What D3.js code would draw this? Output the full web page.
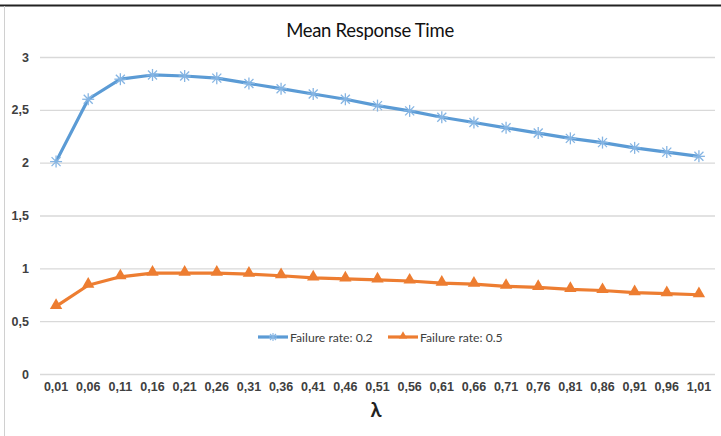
<!DOCTYPE html>
<html>
<head>
<meta charset="utf-8">
<script src="https://cdn.jsdelivr.net/npm/d3@7"></script>
<style>
  body { margin: 0; background: #fff; }
  svg { display: block; font-family: Lato, "Open Sans", sans-serif; }
</style>
</head>
<body>
<div id="chart"></div>
<script>
var lambdas = ["0,01","0,06","0,11","0,16","0,21","0,26","0,31","0,36","0,41","0,46","0,51",
               "0,56","0,61","0,66","0,71","0,76","0,81","0,86","0,91","0,96","1,01"];
var rate02 = [2.01, 2.60, 2.79, 2.83, 2.82, 2.80, 2.75, 2.70, 2.65, 2.60, 2.54,
              2.49, 2.43, 2.38, 2.33, 2.28, 2.23, 2.19, 2.14, 2.10, 2.06];
var rate05 = [0.64, 0.84, 0.92, 0.955, 0.955, 0.955, 0.945, 0.93, 0.91, 0.90, 0.89,
              0.88, 0.86, 0.85, 0.83, 0.82, 0.80, 0.79, 0.77, 0.76, 0.75];
var yTicks = [0, 0.5, 1, 1.5, 2, 2.5, 3];
var seriesNames = ["Failure rate: 0.2", "Failure rate: 0.5"];

var svgWidth = 721, svgHeight = 436;
var margin = {top: 57, right: 6, bottom: 62, left: 40};

var svg = d3.select("#chart").append("svg")
    .attr("width", svgWidth)
    .attr("height", svgHeight);

// frame of the original screenshot
svg.append("line").attr("x1", 0).attr("x2", svgWidth).attr("y1", 5.5).attr("y2", 5.5)
    .attr("stroke", "#222").attr("stroke-width", 2);
svg.append("line").attr("x1", 4.5).attr("x2", 4.5).attr("y1", 6).attr("y2", svgHeight)
    .attr("stroke", "#d0d0d0").attr("stroke-width", 1);

var xScale = d3.scaleBand()
    .domain(lambdas)
    .range([margin.left, svgWidth - margin.right]);

var yScale = d3.scaleLinear()
    .domain([0, 3])
    .range([svgHeight - margin.bottom, margin.top]);

var xc = function(d, i) { return xScale(lambdas[i]) + xScale.bandwidth() / 2; };

// gridlines + y labels
var leftAxis = d3.axisLeft(yScale)
    .tickValues(yTicks)
    .tickSize(-(svgWidth - margin.right - margin.left))
    .tickFormat(function(d) { return String(d).replace(".", ","); });

var yg = svg.append("g")
    .attr("transform", "translate(" + margin.left + ",0)")
    .call(leftAxis);
yg.select(".domain").remove();
yg.selectAll(".tick line").attr("stroke", "#d9d9d9").attr("stroke-width", 1.3);
yg.selectAll(".tick text")
    .attr("x", -11)
    .attr("fill", "#404040")
    .style("font-size", "12.5px")
    .style("font-weight", "bold");

// x labels
var bottomAxis = d3.axisBottom(xScale).tickSize(0).tickPadding(8);
var xg = svg.append("g")
    .attr("transform", "translate(0," + yScale(0) + ")")
    .call(bottomAxis);
xg.select(".domain").remove();
xg.selectAll(".tick text")
    .attr("fill", "#404040")
    .style("font-size", "12.5px")
    .style("font-weight", "bold");

// title + axis title
svg.append("text")
    .attr("x", 370).attr("y", 37)
    .attr("text-anchor", "middle")
    .attr("fill", "#111")
    .style("font-size", "18.5px")
    .style("letter-spacing", "-0.3px")
    .text("Mean Response Time");

svg.append("text")
    .attr("x", 376).attr("y", 417)
    .attr("text-anchor", "middle")
    .attr("fill", "#222")
    .style("font-size", "20px")
    .style("font-weight", "bold")
    .text("λ");

var line = d3.line().x(xc).y(function(d) { return yScale(d); });

// series 0.2
svg.append("path")
    .datum(rate02)
    .attr("d", line)
    .attr("fill", "none")
    .attr("stroke", "#5b9bd5")
    .attr("stroke-width", 3.2)
    .attr("stroke-linejoin", "round");

function star(g, r) {
  g.append("line").attr("x1", -r).attr("x2", r).attr("y1", 0).attr("y2", 0);
  g.append("line").attr("x1", 0).attr("x2", 0).attr("y1", -r).attr("y2", r);
  g.append("line").attr("x1", -r * 0.75).attr("x2", r * 0.75).attr("y1", -r * 0.75).attr("y2", r * 0.75);
  g.append("line").attr("x1", -r * 0.75).attr("x2", r * 0.75).attr("y1", r * 0.75).attr("y2", -r * 0.75);
}

svg.selectAll(".star")
    .data(rate02)
    .enter().append("g")
    .attr("class", "star")
    .attr("transform", function(d, i) { return "translate(" + xc(d, i) + "," + yScale(d) + ")"; })
    .attr("stroke", "#86b5e3")
    .attr("stroke-width", 1.3)
    .each(function() { star(d3.select(this), 6); });

// series 0.5
svg.append("path")
    .datum(rate05)
    .attr("d", line)
    .attr("fill", "none")
    .attr("stroke", "#ed7d31")
    .attr("stroke-width", 3.2)
    .attr("stroke-linejoin", "round");

var tri = d3.symbol().type(d3.symbolTriangle).size(66);
svg.selectAll(".tri")
    .data(rate05)
    .enter().append("path")
    .attr("class", "tri")
    .attr("d", tri)
    .attr("transform", function(d, i) { return "translate(" + xc(d, i) + "," + (yScale(d) - 1) + ")"; })
    .attr("fill", "#ed7d31");

// legend
var legend = svg.append("g").attr("transform", "translate(0,337)");
var legendX = [258, 388];
var legendColors = ["#5b9bd5", "#ed7d31"];
seriesNames.forEach(function(name, i) {
  var lg = legend.append("g").attr("transform", "translate(" + legendX[i] + ",0)");
  lg.append("line").attr("x1", 0).attr("x2", 30).attr("y1", 0).attr("y2", 0)
      .attr("stroke", legendColors[i]).attr("stroke-width", 3.2);
  if (i === 0) {
    var sg = lg.append("g").attr("transform", "translate(15,0)")
        .attr("stroke", "#86b5e3").attr("stroke-width", 1.1);
    star(sg, 4);
  } else {
    lg.append("path").attr("d", d3.symbol().type(d3.symbolTriangle).size(30))
        .attr("transform", "translate(15,-1)").attr("fill", "#ed7d31");
  }
  lg.append("text").attr("x", 32).attr("y", 4.5)
      .attr("fill", "#404040")
      .style("font-size", "12.2px")
      .text(name);
});
</script>
</body>
</html>
